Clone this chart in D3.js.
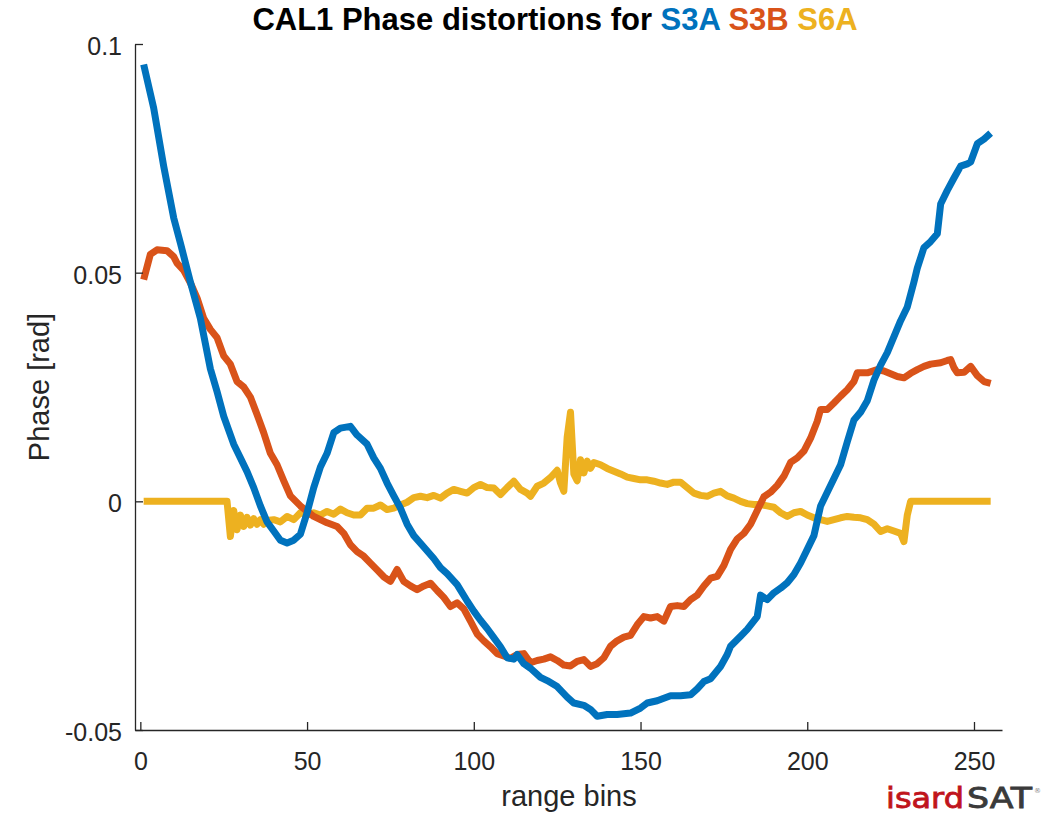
<!DOCTYPE html>
<html>
<head>
<meta charset="utf-8">
<script src="https://d3js.org/d3.v7.min.js"></script>
<style>
  body { margin: 0; background: #fff; }
</style>
</head>
<body>
<div id="chart"></div>
<script>

var xTicks = [0, 50, 100, 150, 200, 250];
var yTicks = [-0.05, 0, 0.05, 0.1];
var seriesNames = ["S3A", "S3B", "S6A"];
var colors = ["#0072BD", "#D95319", "#EDB120"];

var s3aBins = [1, 4, 7, 10, 12, 15, 18, 21, 23, 25, 28, 30, 32, 34, 36, 38, 40, 42, 44, 46, 48, 50, 52, 54, 56, 58, 60, 63, 65, 68, 70, 72, 74, 76, 78, 80, 82, 85, 88, 90, 92, 95, 98, 100, 102, 104, 106, 108, 110, 112, 113, 115, 117, 120, 122, 125, 128, 130, 133, 135, 137, 140, 143, 147, 150, 152, 155, 159, 162, 165, 167, 169, 171, 174, 176, 177, 180, 182, 185, 186, 188, 190, 192, 194, 196, 198, 200, 202, 204, 206, 208, 210, 212, 214, 216, 218, 220, 222, 224, 226, 228, 230, 232, 233, 235, 237, 239, 240, 242, 244, 246, 248, 249, 251, 253, 255];
var s3aPhase = [0.0955, 0.086, 0.0733, 0.062, 0.0565, 0.048, 0.040, 0.029, 0.024, 0.0186, 0.0125, 0.0095, 0.0065, 0.003, -0.001, -0.0045, -0.0065, -0.0085, -0.0091, -0.0085, -0.0072, -0.0025, 0.003, 0.0075, 0.0105, 0.015, 0.016, 0.0164, 0.0145, 0.0125, 0.0095, 0.0072, 0.004, 0.0012, -0.0015, -0.005, -0.0075, -0.0100, -0.0125, -0.0145, -0.0158, -0.0182, -0.0218, -0.024, -0.026, -0.0278, -0.0298, -0.0318, -0.0342, -0.0345, -0.0335, -0.0355, -0.0365, -0.0385, -0.0392, -0.0405, -0.0428, -0.0441, -0.0446, -0.0455, -0.047, -0.0466, -0.0466, -0.0463, -0.0452, -0.0441, -0.0436, -0.0425, -0.0425, -0.0423, -0.041, -0.0394, -0.0388, -0.0361, -0.0335, -0.0317, -0.0295, -0.028, -0.0252, -0.0205, -0.0215, -0.0200, -0.019, -0.0178, -0.016, -0.0135, -0.0105, -0.0075, -0.001, 0.002, 0.0050, 0.008, 0.013, 0.0178, 0.0195, 0.022, 0.0265, 0.0298, 0.0325, 0.036, 0.0395, 0.0425, 0.048, 0.0510, 0.0555, 0.0568, 0.0585, 0.065, 0.0680, 0.0707, 0.0733, 0.0738, 0.0742, 0.0782, 0.0792, 0.0805];

var s3bBins = [1, 3, 5, 8, 10, 11, 13, 15, 17, 19, 21, 23, 25, 27, 29, 31, 33, 35, 37, 39, 41, 43, 45, 48, 52, 56, 59, 61, 63, 65, 67, 69, 71, 73, 75, 77, 79, 81, 83, 85, 87, 89, 91, 93, 95, 97, 99, 101, 103, 105, 107, 109, 111, 113, 115, 117, 119, 121, 123, 125, 127, 129, 131, 133, 135, 137, 139, 141, 143, 145, 147, 149, 151, 153, 155, 157, 159, 161, 163, 165, 167, 169, 171, 173, 175, 177, 179, 181, 183, 185, 187, 189, 191, 193, 195, 197, 199, 201, 203, 204, 206, 208, 210, 212, 214, 215, 218, 221, 223, 225, 227, 229, 231, 233, 235, 237, 240, 242, 243, 244, 245, 247, 249, 251, 253, 255];
var s3bPhase = [0.0485, 0.054, 0.0550, 0.0548, 0.0535, 0.0521, 0.0505, 0.0478, 0.0445, 0.040, 0.0376, 0.0358, 0.0318, 0.0300, 0.0262, 0.0250, 0.0228, 0.019, 0.0150, 0.0105, 0.0080, 0.0045, 0.0012, -0.0010, -0.0033, -0.0047, -0.0055, -0.007, -0.0095, -0.011, -0.012, -0.0135, -0.015, -0.0165, -0.0175, -0.0149, -0.0175, -0.0185, -0.0193, -0.0185, -0.0179, -0.0195, -0.021, -0.0230, -0.0222, -0.0235, -0.0262, -0.029, -0.0305, -0.0318, -0.0333, -0.0338, -0.0343, -0.0335, -0.0333, -0.0353, -0.0348, -0.0345, -0.0340, -0.0348, -0.0358, -0.0360, -0.035, -0.0346, -0.0361, -0.0355, -0.0342, -0.0317, -0.0305, -0.0297, -0.0293, -0.0270, -0.0252, -0.0255, -0.0252, -0.0262, -0.023, -0.0228, -0.023, -0.0215, -0.0205, -0.0185, -0.0168, -0.0164, -0.014, -0.0105, -0.0082, -0.0070, -0.005, -0.002, 0.0010, 0.0020, 0.0035, 0.0055, 0.0085, 0.0095, 0.0110, 0.0138, 0.0175, 0.0201, 0.0201, 0.0215, 0.023, 0.0244, 0.0262, 0.0281, 0.0281, 0.0288, 0.0285, 0.0279, 0.0273, 0.0270, 0.0280, 0.0288, 0.0295, 0.0300, 0.0303, 0.0308, 0.0310, 0.0292, 0.0281, 0.0282, 0.0295, 0.0275, 0.0262, 0.0258];

var s6aBins = [1, 26, 27, 28, 29, 30, 31, 32, 33, 34, 35, 36, 37, 38, 40, 42, 44, 46, 48, 50, 52, 54, 56, 58, 60, 62, 64, 66, 68, 70, 72, 74, 76, 78, 80, 82, 84, 86, 88, 90, 92, 94, 96, 98, 100, 102, 104, 106, 108, 110, 112, 114, 116, 117, 119, 121, 123, 125, 126, 127, 128, 129, 130, 131, 132, 133, 134, 135, 136, 138, 140, 142, 144, 146, 148, 150, 152, 154, 156, 158, 160, 162, 164, 166, 168, 170, 172, 174, 176, 178, 180, 182, 184, 186, 188, 190, 192, 194, 196, 198, 200, 202, 204, 206, 208, 210, 212, 214, 216, 218, 220, 222, 224, 226, 228, 229, 230, 231, 255];
var s6aPhase = [0, 0, -0.0077, -0.0020, -0.0062, -0.0030, -0.0055, -0.0035, -0.0052, -0.0038, -0.0050, -0.0040, -0.0050, -0.0042, -0.0040, -0.0045, -0.0033, -0.0040, -0.0025, -0.0030, -0.0025, -0.0030, -0.0022, -0.0028, -0.0017, -0.0025, -0.0030, -0.0030, -0.0015, -0.0015, -0.0008, -0.0018, -0.0015, -0.0008, -0.0002, 0.0008, 0.0011, 0.0008, 0.0013, 0.0007, 0.0018, 0.0026, 0.0022, 0.0018, 0.0030, 0.0037, 0.0030, 0.0029, 0.0015, 0.0030, 0.0044, 0.0026, 0.0018, 0.0011, 0.0033, 0.0040, 0.0052, 0.0068, 0.0040, 0.0022, 0.0140, 0.0195, 0.0060, 0.0045, 0.0091, 0.0062, 0.0088, 0.0072, 0.0085, 0.0080, 0.0072, 0.0066, 0.0060, 0.0053, 0.0050, 0.0047, 0.0047, 0.0044, 0.0040, 0.0037, 0.0042, 0.0042, 0.0030, 0.0018, 0.0013, 0.0011, 0.0018, 0.0022, 0.0012, 0.0007, 0.0000, -0.0005, -0.0007, -0.0007, -0.0010, -0.0013, -0.0025, -0.0033, -0.0025, -0.0022, -0.0030, -0.0036, -0.0040, -0.0044, -0.0040, -0.0036, -0.0033, -0.0035, -0.0036, -0.0040, -0.0050, -0.0066, -0.0060, -0.0065, -0.0070, -0.0088, -0.0030, 0, 0];

var width = 1049, height = 819;
var axisColor = "#262626";
var font = "'Liberation Sans', Arial, Helvetica, sans-serif";

var svg = d3.select("#chart")
    .append("svg")
    .attr("width", width)
    .attr("height", height)
    .style("font-family", font);

var x = d3.scaleLinear()
    .domain([-1.6, 258.4])
    .range([135, 1002]);

var y = d3.scaleLinear()
    .domain([-0.05, 0.1])
    .range([730, 44]);

var line = d3.line()
    .x(function(d) { return x(d[0]); })
    .y(function(d) { return y(d[1]); });

var series = [
    d3.zip(s3aBins, s3aPhase),
    d3.zip(s3bBins, s3bPhase),
    d3.zip(s6aBins, s6aPhase)
];

// draw S6A first, S3A ends up on top
svg.append("g")
    .selectAll("path")
    .data([2, 1, 0])
    .enter()
    .append("path")
    .attr("d", function(i) { return line(series[i]); })
    .style("fill", "none")
    .style("stroke", function(i) { return colors[i]; })
    .style("stroke-width", 7)
    .style("stroke-linejoin", "round")
    .style("stroke-linecap", "butt");

var xAxis = svg.append("g")
    .attr("transform", "translate(0,730)")
    .call(d3.axisBottom(x)
        .tickValues(xTicks)
        .tickSizeInner(-8)
        .tickSizeOuter(0)
        .tickPadding(22));

var yAxis = svg.append("g")
    .attr("transform", "translate(135,0)")
    .call(d3.axisLeft(y)
        .tickValues(yTicks)
        .tickFormat(function(d) { return d === 0 ? "0" : String(d); })
        .tickSizeInner(-8)
        .tickSizeOuter(0)
        .tickPadding(13));

[xAxis, yAxis].forEach(function(g) {
    g.select(".domain").style("stroke", axisColor).style("stroke-width", 1.3);
    g.selectAll(".tick line").style("stroke", axisColor).style("stroke-width", 1.3);
    g.selectAll(".tick text")
        .style("fill", axisColor)
        .style("font-size", "25px")
        .style("font-family", font);
});
yAxis.selectAll(".tick text").attr("dy", "0.42em");

svg.append("text")
    .attr("x", 569)
    .attr("y", 806)
    .attr("text-anchor", "middle")
    .style("font-size", "29px")
    .style("fill", axisColor)
    .text("range bins");

svg.append("text")
    .attr("transform", "translate(49,387) rotate(-90)")
    .attr("text-anchor", "middle")
    .style("font-size", "29px")
    .style("fill", axisColor)
    .text("Phase [rad]");

var title = svg.append("text")
    .attr("x", 555)
    .attr("y", 30)
    .attr("text-anchor", "middle")
    .style("font-size", "31px")
    .style("font-weight", "bold")
    .style("fill", "#000");

title.append("tspan").text("CAL1 Phase distortions for ");
seriesNames.forEach(function(n, i) {
    title.append("tspan")
        .style("fill", colors[i])
        .text(n + (i < seriesNames.length - 1 ? " " : ""));
});

// logo
var logo = svg.append("g")
    .style("font-family", "'DejaVu Sans', sans-serif")
    .style("font-weight", "normal")
    .style("font-size", "28px");

logo.append("text")
    .attr("x", 886)
    .attr("y", 808)
    .attr("textLength", 78)
    .attr("lengthAdjust", "spacingAndGlyphs")
    .style("fill", "#c0141c")
    .style("stroke", "#c0141c")
    .style("stroke-width", 0.8)
    .text("isard");

logo.append("text")
    .attr("x", 967)
    .attr("y", 808)
    .attr("textLength", 65)
    .attr("lengthAdjust", "spacingAndGlyphs")
    .style("fill", "#3a3a3a")
    .style("stroke", "#3a3a3a")
    .style("stroke-width", 0.8)
    .text("SAT");

logo.append("text")
    .attr("x", 1034)
    .attr("y", 793)
    .style("font-size", "7px")
    .style("fill", "#888")
    .text("®");

</script>
</body>
</html>
